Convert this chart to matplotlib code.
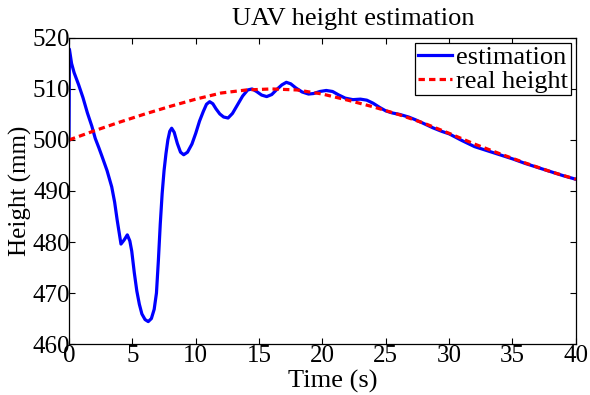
import numpy as np
import matplotlib
matplotlib.use('Agg')
import matplotlib.pyplot as plt

# estimated height (time in s, height in mm)
t_est = [0, 0.03, 0.2, 0.4, 0.76, 1.1, 1.45, 1.8, 2.07, 2.35, 2.6, 3.0, 3.37, 3.6, 3.8,
         4.1, 4.35, 4.6, 4.8, 4.95, 5.15, 5.35, 5.55, 5.75, 6.0, 6.25, 6.5, 6.72, 6.9,
         7.05, 7.2, 7.35, 7.5, 7.65, 7.8, 7.95, 8.1, 8.3, 8.55, 8.8, 9.05, 9.35, 9.7,
         10.0, 10.3, 10.6, 10.85, 11.1, 11.35, 11.6, 11.9, 12.2, 12.55, 12.9, 13.3,
         13.7, 14.1, 14.45, 14.8, 15.2, 15.6, 16.0, 16.4, 16.8, 17.15, 17.5, 17.9,
         18.4, 18.9, 19.3, 19.8, 20.3, 20.8, 21.3, 21.8, 22.4, 23.0, 23.5, 24.0, 24.5,
         25.0, 25.5, 26.1, 26.8, 27.4, 28.1, 28.7, 29.4, 30.0, 31.0, 32.0, 33.0, 34.0,
         35.0, 36.0, 37.0, 38.0, 39.0, 40.0]
h_est = [500, 517.8, 515, 513.2, 510.8, 508.3, 505.3, 502.7, 500.3, 498.5, 496.8, 494,
         490.8, 487.8, 484.3, 479.6, 480.4, 481.4, 480.2, 478.2, 474, 470.4, 467.8,
         465.9, 464.8, 464.4, 465, 466.8, 470, 476.3, 483.5, 489.5, 494, 497.3, 500,
         501.7, 502.3, 501.5, 499.3, 497.6, 497.1, 497.6, 499.2, 501.3, 503.7, 505.6,
         507, 507.5, 507.1, 506.1, 505.1, 504.5, 504.3, 505.2, 506.9, 508.6, 509.8,
         510, 509.5, 508.8, 508.5, 508.9, 509.9, 510.8, 511.3, 511, 510.2, 509.4, 509,
         509.1, 509.5, 509.7, 509.5, 508.8, 508.2, 507.9, 508, 507.8, 507.2, 506.4,
         505.7, 505.3, 505.0, 504.5, 503.9, 503.1, 502.4, 501.7, 501.2, 499.9, 498.7,
         497.9, 497.1, 496.3, 495.4, 494.6, 493.8, 493, 492.3]

# real height
t_real = [0, 2, 4, 6, 8, 10, 12, 14, 16, 18, 20, 22, 24, 26, 28, 30, 32, 34, 36, 38, 40]
h_real = [500, 501.8, 503.5, 505.1, 506.6, 508, 509.2, 509.8, 510.0, 509.8, 509, 507.8,
          506.5, 505, 503.3, 501.3, 499.2, 497.3, 495.5, 493.8, 492.3]

plt.rcParams['font.family'] = ['Liberation Serif', 'DejaVu Serif']

fig = plt.figure(figsize=(5.9, 3.95), dpi=100)
ax = fig.add_axes([0.117, 0.129, 0.859, 0.775])

ax.plot(t_est, h_est, color='#0000ff', lw=2.3, label='estimation')
ax.plot(t_real, h_real, color='#ff0000', lw=2.3, dashes=(2.0, 1.3), label='real height')

ax.set_xlim(0, 40)
ax.set_ylim(460, 520)
ax.set_xticks(np.arange(0, 41, 5))
ax.set_yticks(np.arange(460, 521, 10))
ax.tick_params(direction='in', top=True, right=True, length=4, width=0.8,
               labelsize=18)
ax.tick_params(axis='y', pad=-1)
ax.tick_params(axis='x', pad=1)
for s in ax.spines.values():
    s.set_linewidth(0.9)

ax.set_title('UAV height estimation', fontsize=19, x=0.56, pad=9)
ax.set_xlabel('Time (s)', fontsize=19, labelpad=-7)
ax.xaxis.set_label_coords(0.52, -0.085)
ax.set_ylabel('Height (mm)', fontsize=18, labelpad=1)

leg = ax.legend(loc='upper right', fontsize=19, fancybox=False, shadow=False,
                framealpha=1, edgecolor='black', borderaxespad=0.2,
                handlelength=1.3, handletextpad=0.15, labelspacing=0.0,
                borderpad=0.1)
leg.get_frame().set_linewidth(0.9)

fig.savefig('out.png', dpi=100)
